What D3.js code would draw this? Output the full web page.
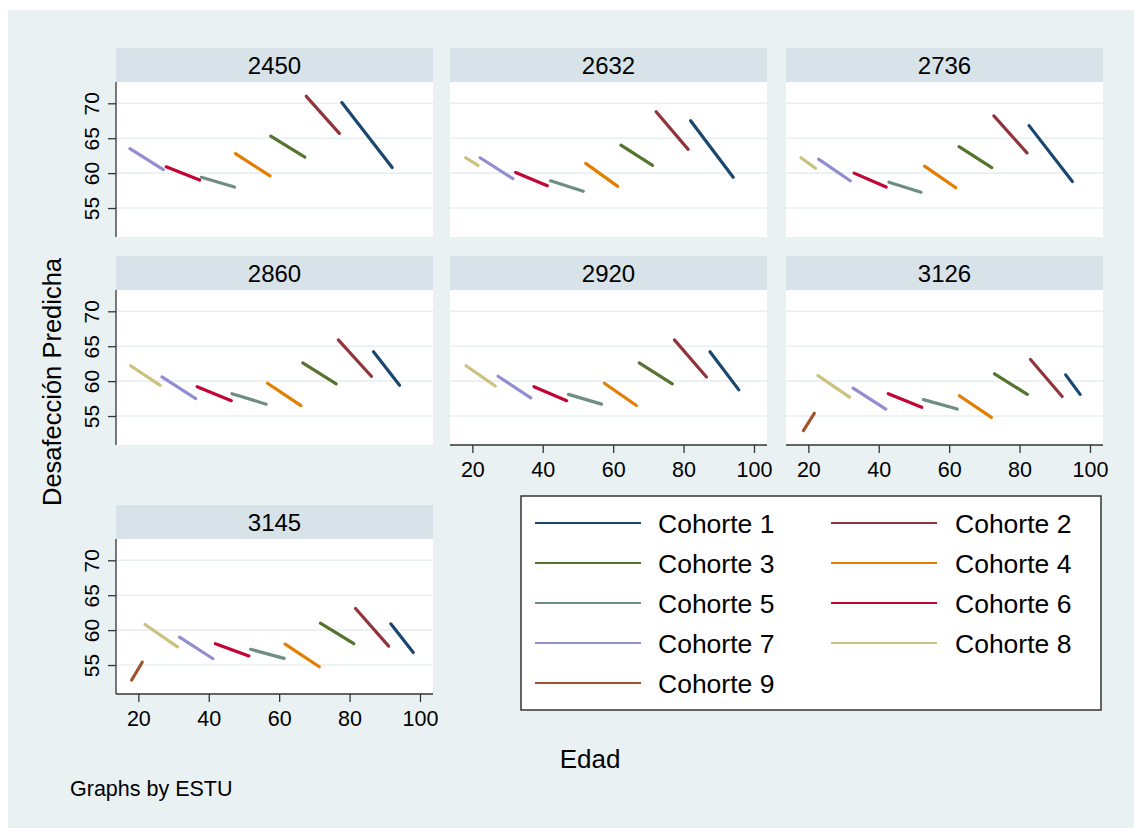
<!DOCTYPE html>
<html>
<head>
<meta charset="utf-8">
<script src="https://cdn.jsdelivr.net/npm/d3@7/dist/d3.min.js"></script>
<style>
  html, body { margin: 0; padding: 0; background: #ffffff; }
  svg { display: block; }
  text { font-family: "Liberation Sans", Arial, Helvetica, sans-serif; fill: #000; }
</style>
</head>
<body>
<svg id="chart" width="1134" height="828"></svg>
<script>
// Facet labels (ESTU) and cohort names
const panels = ["2450", "2632", "2736", "2860", "2920", "3126", "3145"];
const cohorts = ["Cohorte 1", "Cohorte 2", "Cohorte 3", "Cohorte 4", "Cohorte 5",
                 "Cohorte 6", "Cohorte 7", "Cohorte 8", "Cohorte 9"];

// Axis ticks
const xTicks = [20, 40, 60, 80, 100];
const yTicks = [55, 60, 65, 70];

// Predicted segments per ESTU: [cohort, age start, age end, value start, value end]
const seg2450 = [
  [7, 17.6, 27.1, 63.5, 60.5],
  [6, 27.9, 37.4, 60.9, 59.0],
  [5, 37.9, 47.3, 59.4, 58.0],
  [4, 47.6, 57.4, 62.8, 59.6],
  [3, 57.6, 67.3, 65.3, 62.3],
  [2, 67.7, 77.1, 71.0, 65.7],
  [1, 77.8, 92.1, 70.1, 60.8]
];
const seg2632 = [
  [8, 18.1, 21.6, 62.2, 61.1],
  [7, 22.2, 31.5, 62.2, 59.2],
  [6, 32.3, 41.3, 60.1, 58.2],
  [5, 42.2, 51.5, 58.9, 57.4],
  [4, 52.2, 61.3, 61.4, 58.1],
  [3, 62.2, 71.2, 64.0, 61.1],
  [2, 72.2, 81.3, 68.8, 63.4],
  [1, 82.0, 94.1, 67.5, 59.4]
];
const seg2736 = [
  [8, 17.9, 22.0, 62.2, 60.7],
  [7, 22.9, 31.9, 62.0, 58.9],
  [6, 33.0, 42.1, 60.0, 58.0],
  [5, 42.9, 52.0, 58.7, 57.25],
  [4, 53.0, 61.9, 61.0, 57.9],
  [3, 62.8, 72.1, 63.8, 60.8],
  [2, 72.7, 82.1, 68.2, 62.9],
  [1, 82.7, 95.0, 66.8, 58.8]
];
const seg2860 = [
  [8, 17.8, 26.2, 62.2, 59.4],
  [7, 26.7, 36.3, 60.6, 57.5],
  [6, 36.7, 46.4, 59.2, 57.2],
  [5, 46.6, 56.3, 58.2, 56.7],
  [4, 56.7, 66.2, 59.7, 56.5],
  [3, 66.7, 76.2, 62.6, 59.6],
  [2, 76.8, 86.2, 65.9, 60.7],
  [1, 86.8, 94.2, 64.2, 59.4]
];
const seg2920 = [
  [8, 18.2, 26.5, 62.2, 59.3],
  [7, 27.3, 36.6, 60.7, 57.6],
  [6, 37.5, 46.8, 59.2, 57.2],
  [5, 47.3, 56.7, 58.1, 56.7],
  [4, 57.5, 66.6, 59.7, 56.5],
  [3, 67.4, 76.8, 62.6, 59.6],
  [2, 77.4, 86.5, 65.9, 60.6],
  [1, 87.5, 95.7, 64.2, 58.75]
];
const seg3126 = [
  [9, 18.6, 21.7, 52.9, 55.4],
  [8, 22.7, 31.7, 60.8, 57.7],
  [7, 32.7, 42.0, 59.0, 56.0],
  [6, 42.7, 52.2, 58.2, 56.25],
  [5, 52.7, 62.3, 57.35, 56.0],
  [4, 62.9, 72.0, 57.9, 54.8],
  [3, 72.9, 82.2, 61.05, 58.1],
  [2, 83.1, 92.1, 63.1, 57.8],
  [1, 93.1, 97.2, 60.9, 58.1]
];
const seg3145 = [
  [9, 18.1, 21.1, 52.85, 55.4],
  [8, 21.9, 31.1, 60.8, 57.6],
  [7, 31.7, 41.2, 59.0, 55.9],
  [6, 41.9, 51.4, 58.05, 56.3],
  [5, 51.9, 61.4, 57.25, 55.95],
  [4, 61.7, 71.4, 58.0, 54.75],
  [3, 71.7, 81.2, 61.0, 58.05],
  [2, 81.7, 91.1, 63.1, 57.7],
  [1, 91.7, 98.1, 60.9, 56.8]
];
const segmentsByPanel = {
  "2450": seg2450, "2632": seg2632, "2736": seg2736, "2860": seg2860,
  "2920": seg2920, "3126": seg3126, "3145": seg3145
};

// s2color-like palette, one colour per cohort
const palette = ["#1a476f", "#90353b", "#55752f", "#e37e00", "#6e8e84",
                 "#c10534", "#938dd2", "#cac27e", "#a0522d"];
const color = d3.scaleOrdinal().domain(d3.range(1, 10)).range(palette);

const svg = d3.select("#chart");

// Graph region
svg.append("rect").attr("x", 8).attr("y", 10).attr("width", 1126).attr("height", 818)
  .attr("fill", "#eaf1f3");

// Facet grid geometry
const colLeft = [116, 450, 786];
const panelW = 317;
const headerTop = [48, 256, 505];
const headerH = 34;
const plotH = 155;

const x = d3.scaleLinear().domain([13.65, 103.7]).range([0, panelW]);
const y = d3.scaleLinear().domain([50.85, 73.05]).range([plotH, 0]);
const segLine = d3.line().x(d => x(d[0])).y(d => y(d[1]));

// Panels that carry an x axis (nothing drawn beneath them)
const withXAxis = new Set(["2920", "3126", "3145"]);

panels.forEach((p, i) => {
  const row = Math.floor(i / 3), col = i % 3;
  const left = colLeft[col];
  const top = headerTop[row];
  const g = svg.append("g").attr("transform", `translate(${left},${top})`);

  // strip
  g.append("rect").attr("width", panelW).attr("height", headerH).attr("fill", "#d8e3e9");
  g.append("text").attr("x", panelW / 2).attr("y", 26)
    .attr("text-anchor", "middle").style("font-size", "24px").text(p);

  const plot = g.append("g").attr("transform", `translate(0,${headerH})`);
  plot.append("rect").attr("width", panelW).attr("height", plotH).attr("fill", "#ffffff");

  // horizontal grid
  plot.selectAll("line.grid").data(yTicks).enter().append("line")
    .attr("class", "grid")
    .attr("x1", 0).attr("x2", panelW)
    .attr("y1", d => y(d)).attr("y2", d => y(d))
    .attr("stroke", "#e8eff2").attr("stroke-width", 1.6);

  // cohort segments
  plot.selectAll("path.seg").data(segmentsByPanel[p]).enter().append("path")
    .attr("class", "seg")
    .attr("d", d => segLine([[d[1], d[3]], [d[2], d[4]]]))
    .attr("fill", "none")
    .attr("stroke", d => color(d[0]))
    .attr("stroke-width", 3.2)
    .attr("stroke-linecap", "round");

  // y axis on the first column
  if (col === 0) {
    const ya = plot.append("g").call(d3.axisLeft(y).tickValues(yTicks).tickSize(8).tickPadding(10));
    ya.select(".domain").attr("d", `M0,0V${plotH}`).attr("stroke", "#333").attr("stroke-width", 1.3);
    ya.selectAll(".tick line").attr("stroke", "#333").attr("stroke-width", 1.3);
    ya.selectAll(".tick text")
      .attr("x", null).attr("dy", null)
      .attr("text-anchor", "middle")
      .attr("transform", "translate(-17,0) rotate(-90)")
      .style("font-size", "21px")
      .style("font-family", "'Liberation Sans', Arial, Helvetica, sans-serif")
      .attr("fill", "#000");
  }

  if (withXAxis.has(p)) {
    const xa = plot.append("g").attr("transform", `translate(0,${plotH})`)
      .call(d3.axisBottom(x).tickValues(xTicks).tickSize(8).tickFormat(d3.format("d")));
    xa.select(".domain").attr("d", `M0,0H${panelW}`).attr("stroke", "#333").attr("stroke-width", 1.3);
    xa.selectAll(".tick line").attr("stroke", "#333").attr("stroke-width", 1.3);
    xa.selectAll(".tick text")
      .attr("y", 32).attr("dy", null)
      .style("font-size", "21.5px")
      .style("font-family", "'Liberation Sans', Arial, Helvetica, sans-serif")
      .attr("fill", "#000");
  }
});

// Axis titles and note
svg.append("text").attr("transform", "translate(61,382) rotate(-90)")
  .attr("text-anchor", "middle").style("font-size", "25.5px").text("Desafección Predicha");
svg.append("text").attr("x", 590).attr("y", 768)
  .attr("text-anchor", "middle").style("font-size", "26px").text("Edad");
svg.append("text").attr("x", 70).attr("y", 796)
  .style("font-size", "21.5px").text("Graphs by ESTU");

// Legend
const legend = svg.append("g");
legend.append("rect").attr("x", 521).attr("y", 496).attr("width", 580).attr("height", 214)
  .attr("fill", "#ffffff").attr("stroke", "#333").attr("stroke-width", 1.5);
const legLineX = [535, 831], legTextX = [658, 955];
const item = legend.selectAll("g.item").data(cohorts).enter().append("g").attr("class", "item")
  .attr("transform", (d, k) => `translate(0,${523 + Math.floor(k / 2) * 40})`);
item.append("line")
  .attr("x1", (d, k) => legLineX[k % 2]).attr("x2", (d, k) => legLineX[k % 2] + 106)
  .attr("stroke", (d, k) => color(k + 1)).attr("stroke-width", 2.2);
item.append("text")
  .attr("x", (d, k) => legTextX[k % 2]).attr("y", 9.5)
  .style("font-size", "26.5px").text(d => d);
</script>
</body>
</html>
